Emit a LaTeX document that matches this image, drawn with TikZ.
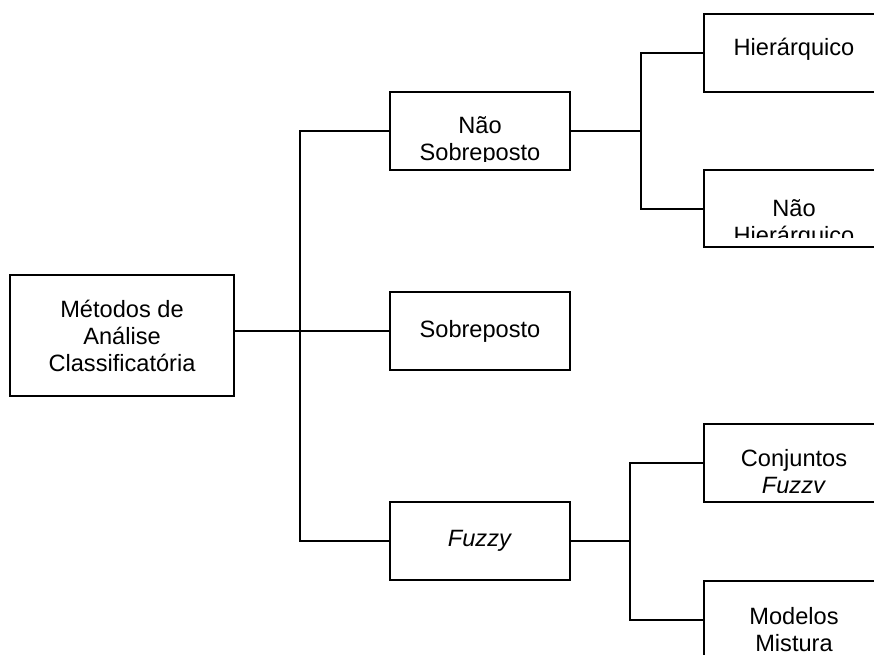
\documentclass[tikz,border=0pt]{standalone}
\usepackage{fontspec}
\setmainfont{Liberation Sans}
\begin{document}
\begin{tikzpicture}[x=1pt,y=-1pt,
  box/.style={draw=black, line width=2pt, fill=white, inner sep=0pt, minimum width=180pt, minimum height=78pt, align=center, font=\fontsize{23.6pt}{27pt}\selectfont},
  txt/.style={inner sep=0pt, align=center, font=\fontsize{23.6pt}{27pt}\selectfont},
  conn/.style={draw=black, line width=2pt}]
\useasboundingbox (0,0) rectangle (874,654);
\clip (0,0) rectangle (874,654);
% boxes
\node[box, minimum width=224pt, minimum height=121pt] (m) at (122,335.5) {Métodos de\\Análise\\Classificatória};
\node[box] (ns) at (480,131) {};
\node[box] (so) at (480,331) {Sobreposto};
\node[box] (fz) at (480,541) {\textit{Fuzzy}};
\node[box] (hi) at (794,53) {};
\node[box, minimum height=77pt] (nh) at (794,208.5) {};
\node[box] (cf) at (794,463) {};
\node[box] (mm) at (794,620) {};
% texts
\node[txt, anchor=base] (thi) at (hi.center |- 0,55) {Hierárquico};
\begin{scope}
\clip ([shift={(1pt,-1pt)}]ns.north west) rectangle ([yshift=10pt]ns.south east);
\node[txt, anchor=base] (tns) at (ns.center |- 0,160) {Não\\Sobreposto};
\end{scope}
\begin{scope}
\clip ([shift={(1pt,-1pt)}]nh.north west) rectangle ([yshift=11pt]nh.south east);
\node[txt, anchor=base] (tnh) at (nh.center |- 0,243) {Não\\Hierárquico};
\end{scope}
\begin{scope}
\clip ([shift={(1pt,-1pt)}]cf.north west) rectangle ([yshift=11pt]cf.south east);
\node[txt, anchor=base] (tcf) at (cf.center |- 0,493) {Conjuntos\\\textit{Fuzzy}};
\end{scope}
\node[txt, anchor=base] (tmm) at (mm.center |- 0,651) {Modelos\\Mistura};
% connectors
\coordinate (sp) at (300,0);
\coordinate (b1) at (641,0);
\coordinate (b2) at (630,0);
\draw[conn] (m.east |- so.west) -- (so.west);
\draw[conn] (ns.west) -| (sp |- fz.west) -- (fz.west);
\draw[conn] (ns.east) -- (ns.east -| b1);
\draw[conn] (hi.west) -| (b1 |- nh.west) -- (nh.west);
\draw[conn] (fz.east) -- (fz.east -| b2);
\draw[conn] (cf.west) -| (b2 |- mm.west) -- (mm.west);
\end{tikzpicture}
\end{document}
